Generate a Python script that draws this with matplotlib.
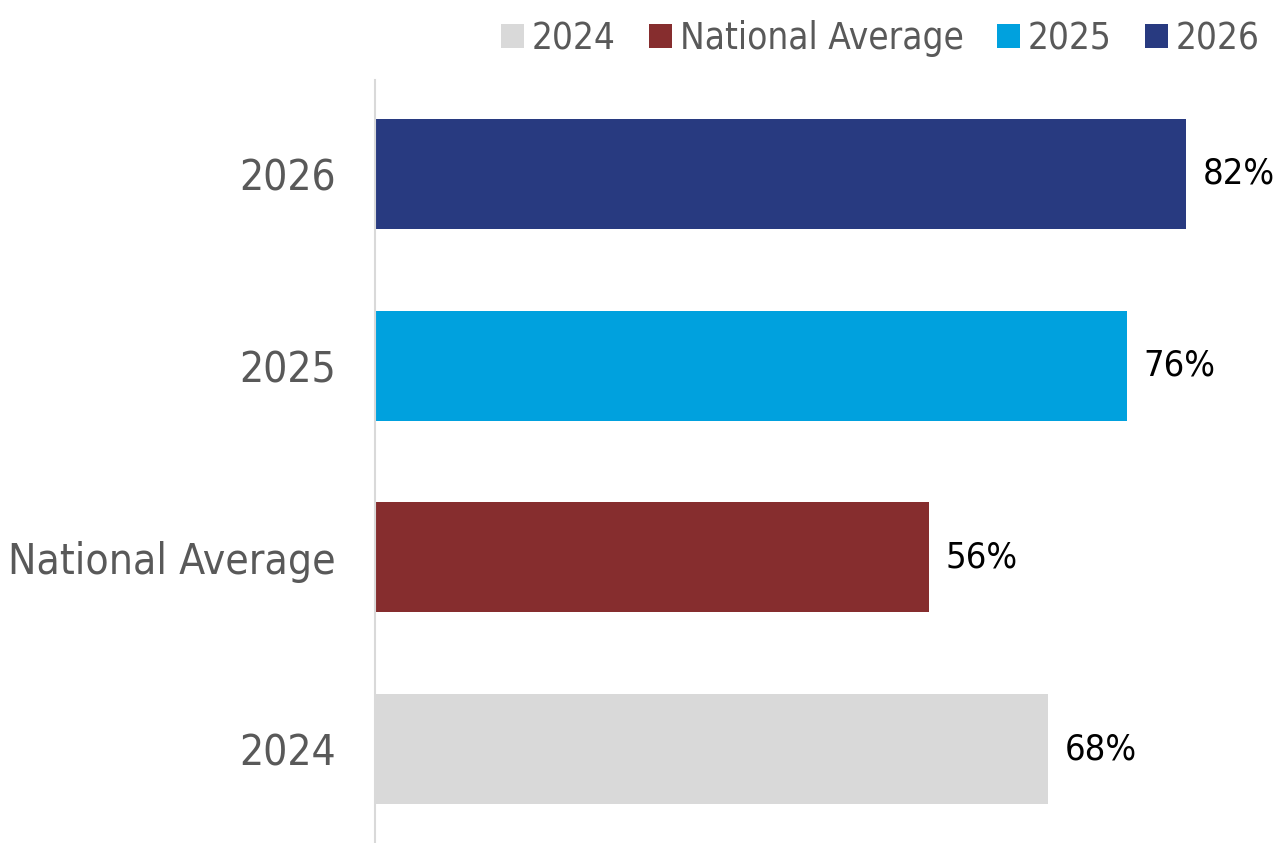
import matplotlib.pyplot as plt
from matplotlib.patches import Patch

categories = ["2024", "National Average", "2025", "2026"]
values = [68, 56, 76, 82]
colors = ["#D9D9D9", "#862D2E", "#00A1DE", "#283A80"]
value_labels = ["68%", "56%", "76%", "82%"]

plt.rcParams['font.family'] = ['DejaVu Sans']
plt.rcParams['font.stretch'] = 'condensed'

fig = plt.figure(figsize=(12.88, 8.43), dpi=100)
ax = fig.add_axes([375 / 1288, 0.0, (1280 - 375) / 1288, (843 - 80) / 843])

ypos = list(range(len(categories)))
ax.barh(ypos, values, height=0.575, color=colors)

for y, v, lab in zip(ypos, values, value_labels):
    ax.text(v + 1.7, y, lab, va="center", ha="left", fontsize=26, color="#000000")

ax.set_xlim(0, 91.5)
ax.set_ylim(-0.49, 3.49)
ax.set_yticks(ypos)
ax.set_yticklabels(categories, fontsize=30.5, color="#595959")
ax.tick_params(axis="y", length=0, pad=28)
ax.tick_params(axis="x", bottom=False, labelbottom=False)
for s in ["top", "right", "bottom"]:
    ax.spines[s].set_visible(False)
ax.spines["left"].set_color("#D9D9D9")
ax.spines["left"].set_linewidth(1.5)

handles = [Patch(facecolor=c, edgecolor="none") for c in colors]
leg = fig.legend(handles, categories, loc="upper right", bbox_to_anchor=(1278 / 1288, 0.998),
                 ncol=4, frameon=False, fontsize=26.5, handlelength=0.62, handleheight=0.62,
                 handletextpad=0.22, columnspacing=0.9, borderaxespad=0.1)
for t in leg.get_texts():
    t.set_color("#595959")

fig.savefig("out.png", dpi=100)
